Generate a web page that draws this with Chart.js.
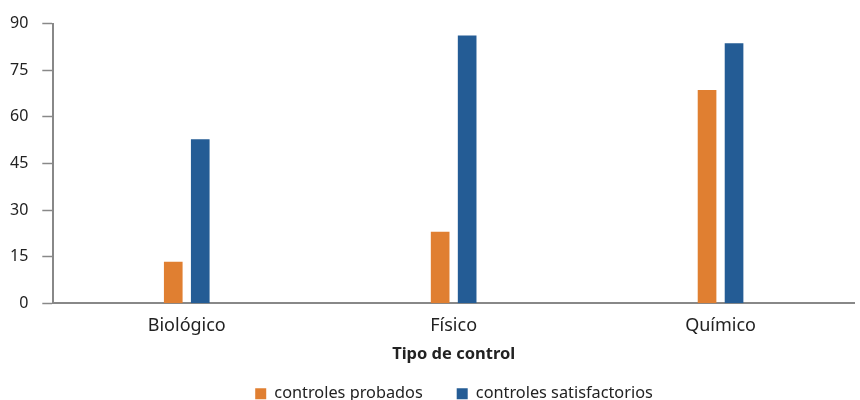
<!DOCTYPE html>
<html lang="es">
<head>
    <meta charset="UTF-8">
    <title>Tipo de control</title>
    <script src="https://cdn.jsdelivr.net/npm/chart.js"></script>
    <style>
        body { margin: 0; background: #fff; }
        .chart-container { width: 860px; height: 400px; }
    </style>
</head>
<body>
    <div class="chart-container">
        <canvas id="controlChart"></canvas>
    </div>
    <script>
        const categories = ['Biológico', 'Físico', 'Químico'];
        const probados = [13.3, 22.9, 68.5];
        const satisfactorios = [52.7, 86.1, 83.6];
        const yTicks = [0, 15, 30, 45, 60, 75, 90];

        Chart.defaults.font.family = "'Noto Sans', 'Open Sans', sans-serif";
        Chart.defaults.color = '#222';

        // la leyenda ocupa menos alto y se centra bajo el área del gráfico
        const legendOffset = {
            id: 'legendOffset',
            afterInit(chart) {
                const legend = chart.legend;
                const fit = legend.fit;
                legend.fit = function () { fit.call(this); this.height -= 24; };
                const draw = legend.draw;
                legend.draw = function () {
                    const box = { top: this.top, bottom: this.bottom, left: this.left, right: this.right };
                    this.top -= 12;
                    this.bottom += 40;
                    this.left += 29;
                    this.right += 29;
                    draw.apply(this, arguments);
                    Object.assign(this, box);
                };
            }
        };

        const ctx = document.getElementById('controlChart').getContext('2d');
        new Chart(ctx, {
            type: 'bar',
            data: {
                labels: categories,
                datasets: [{
                    label: 'controles probados',
                    data: probados,
                    backgroundColor: '#E07F31',
                    barThickness: 27,
                    maxBarThickness: 18
                }, {
                    label: 'controles satisfactorios',
                    data: satisfactorios,
                    backgroundColor: '#245C95',
                    barThickness: 27,
                    maxBarThickness: 18
                }]
            },
            plugins: [legendOffset],
            options: {
                responsive: true,
                maintainAspectRatio: false,
                animation: false,
                layout: { padding: { top: 16, right: 6, left: -4, bottom: 0 } },
                plugins: {
                    tooltip: { enabled: false },
                    legend: {
                        position: 'bottom',
                        labels: {
                            boxWidth: 11,
                            boxHeight: 11,
                            padding: 34,
                            font: { size: 16.3 }
                        }
                    }
                },
                scales: {
                    x: {
                        grid: { display: false, drawTicks: false },
                        border: { color: '#888', width: 2 },
                        ticks: { font: { size: 18 }, padding: 12 },
                        title: {
                            display: true,
                            text: 'Tipo de control',
                            font: { size: 16.5, weight: 'bold' },
                            padding: { top: -5, bottom: 0 }
                        }
                    },
                    y: {
                        min: 0,
                        max: 90,
                        afterBuildTicks: axis => { axis.ticks = yTicks.map(v => ({ value: v })); },
                        grid: { drawOnChartArea: false, color: '#888', tickLength: 11, tickWidth: 1.5 },
                        border: { color: '#888', width: 2 },
                        ticks: { font: { size: 16 }, padding: 14 }
                    }
                }
            }
        });
    </script>
</body>
</html>
